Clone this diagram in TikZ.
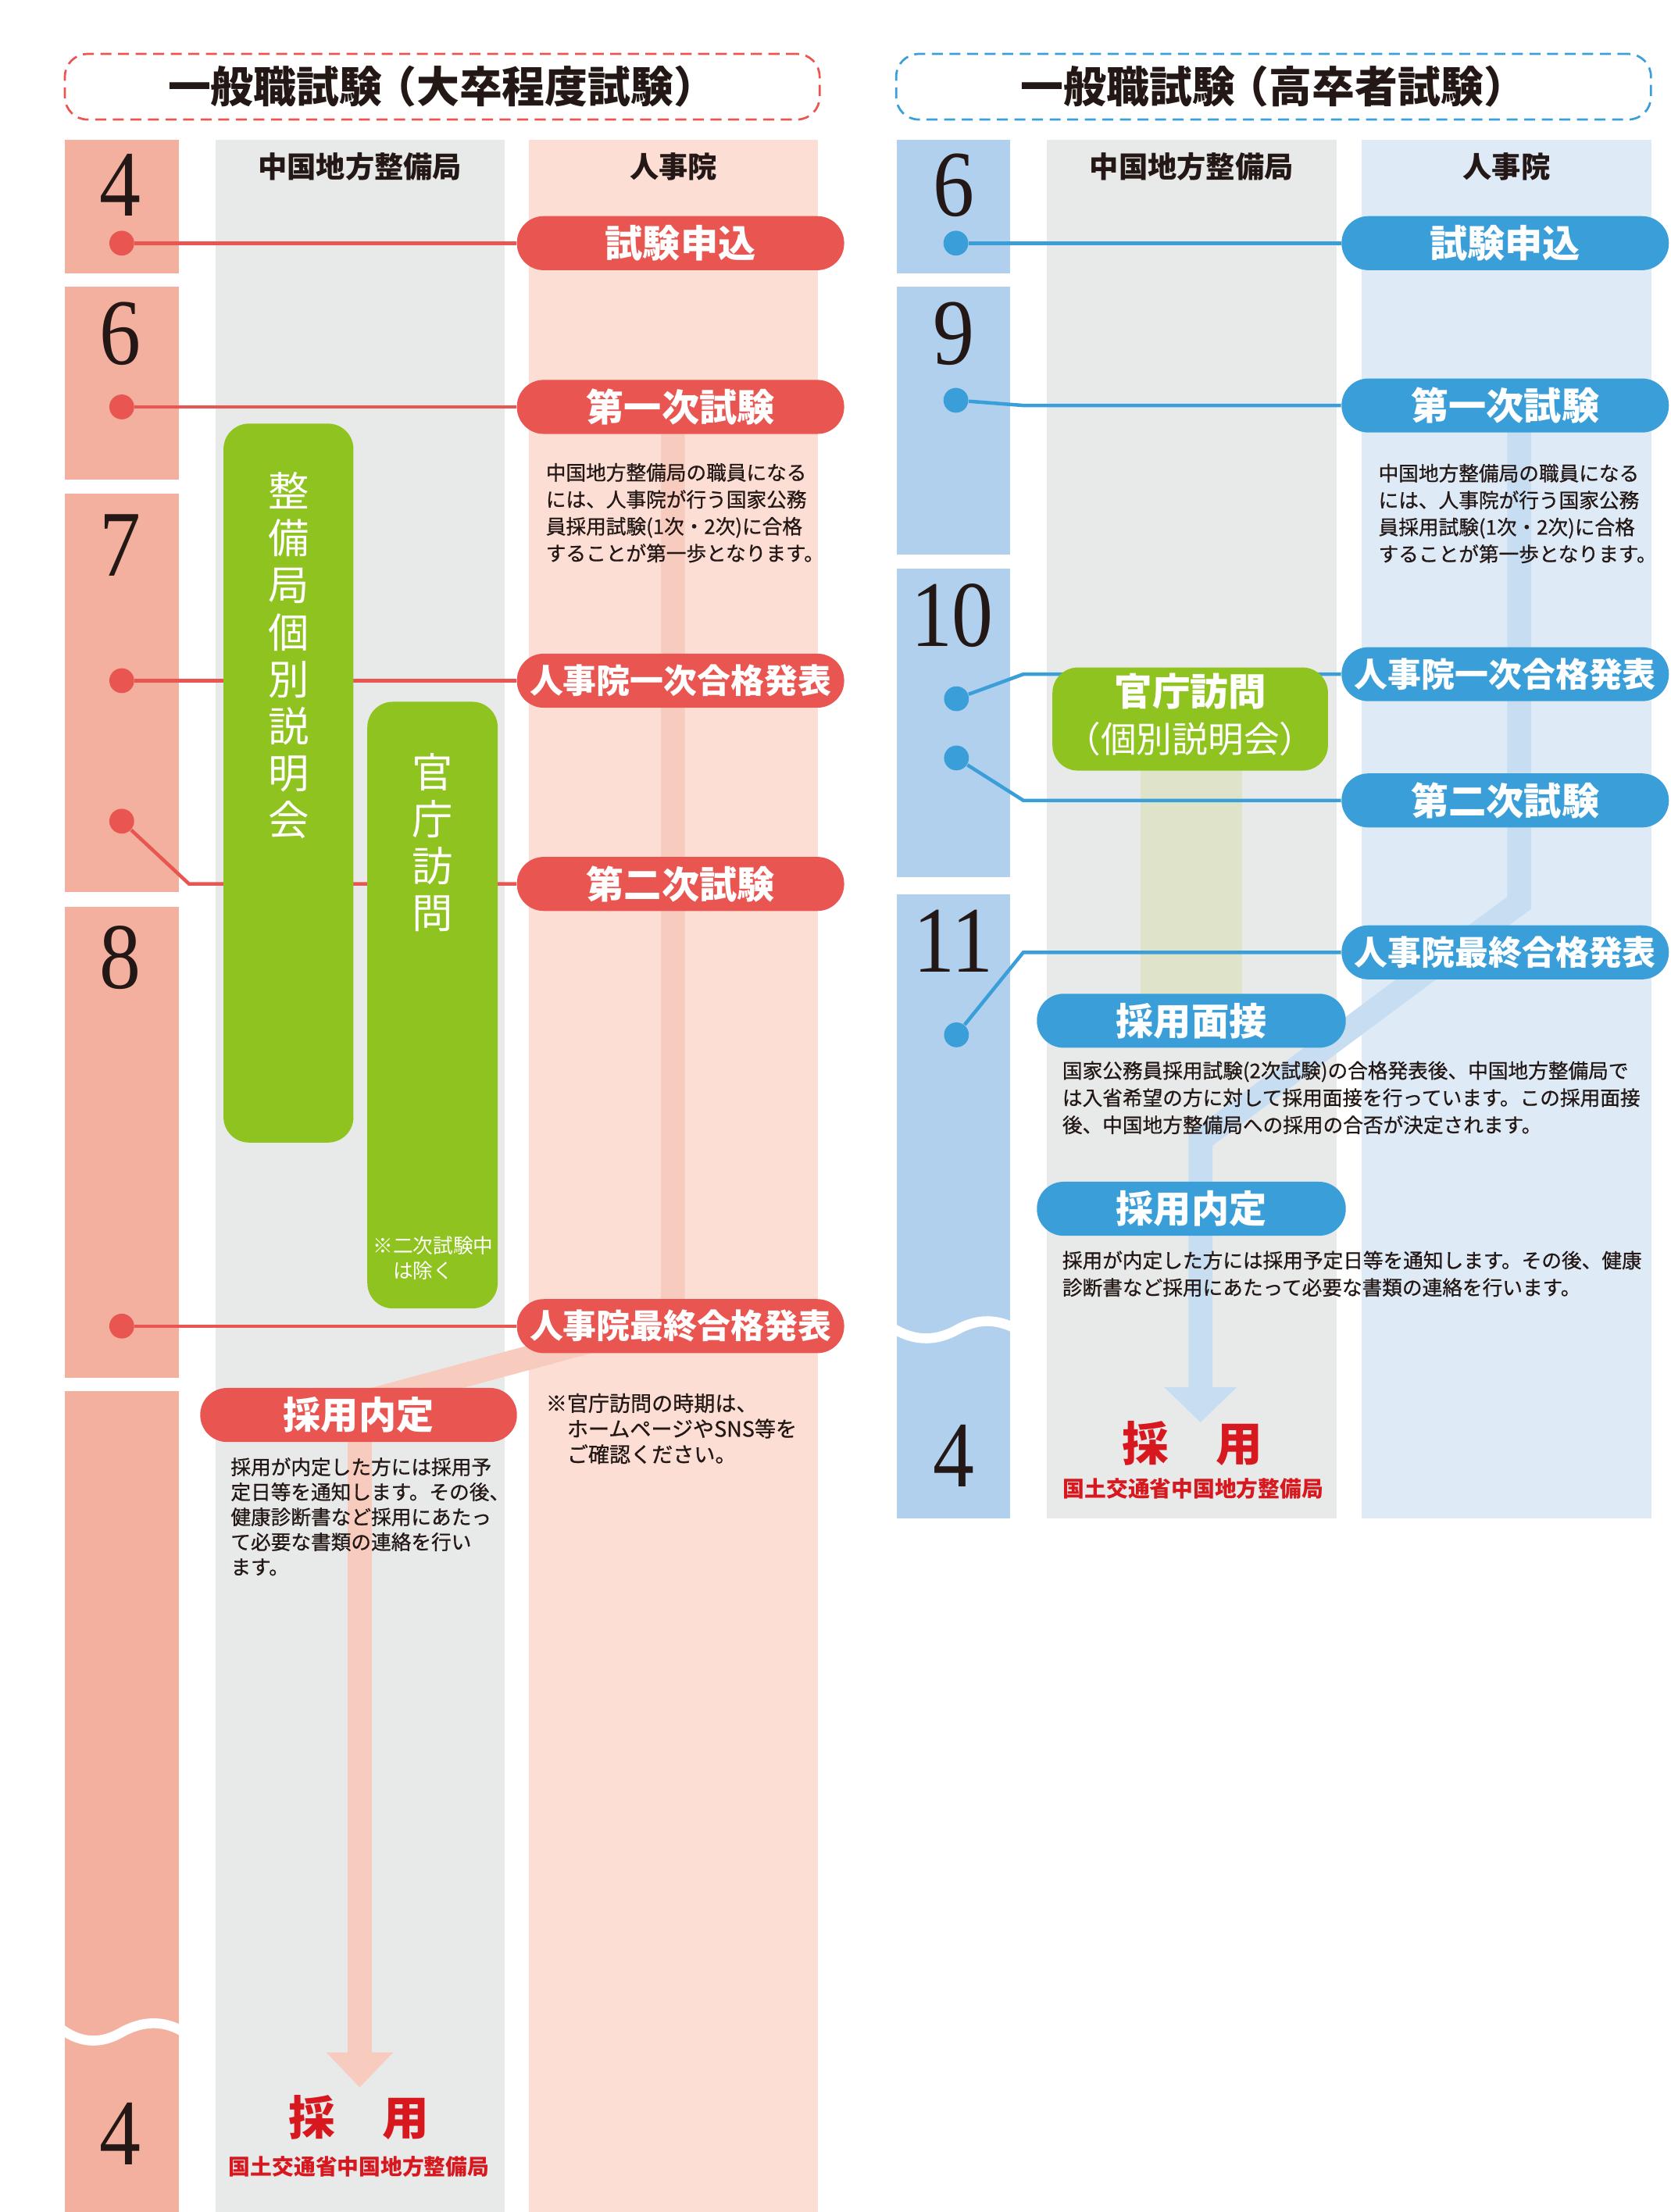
\documentclass[tikz,border=0pt]{standalone}
\usepackage{fontspec}
\newfontfamily\jp{Noto Sans CJK JP}
\newfontfamily\jpm{Noto Sans CJK JP}[FakeBold=0.8]
\newfontfamily\numfont{Liberation Serif}[FakeStretch=0.88]
\usetikzlibrary{arrows.meta}
\pgfdeclarelayer{back}
\pgfdeclarelayer{mid}
\pgfsetlayers{back,mid,main}
\def\un{0.018057cm}
\definecolor{ink}{HTML}{231815}
\definecolor{redpill}{HTML}{E95651}
\definecolor{monred}{HTML}{F3B09F}
\definecolor{colpink}{HTML}{FCDED5}
\definecolor{colgray}{HTML}{E8EAEA}
\definecolor{leaf}{HTML}{8FC31F}
\definecolor{palered}{HTML}{F8CBBF}
\definecolor{bluepill}{HTML}{3A9FD9}
\definecolor{monblue}{HTML}{B0D0EE}
\definecolor{colblue}{HTML}{DEEBF7}
\definecolor{paleblue}{HTML}{C7DEF2}
\definecolor{olive}{HTML}{DFE3CA}
\definecolor{inkred}{HTML}{D7181F}
\tikzset{
  titlebox/.style={dash pattern=on 4pt off 2.4pt, line width=1.5*\un, rounded corners=16*\un,
    minimum width=535*\un, minimum height=46.5*\un, inner sep=0, text=ink,
    font=\jp\bfseries\fontsize{15.6}{18}\selectfont},
  colhead/.style={text=ink, font=\jp\bfseries\fontsize{10.6}{12}\selectfont},
  monthnum/.style={anchor=base, inner sep=0, text=ink, font=\numfont\fontsize{34.2}{36}\selectfont},
  pillr/.style={fill=redpill, text=white, rounded corners=19*\un, minimum width=232*\un,
    minimum height=38.3*\un, inner sep=0, font=\jp\bfseries\fontsize{13.7}{15}\selectfont},
  pillb/.style={pillr, fill=bluepill},
  longlabel/.style={font=\jp\bfseries\fontsize{12.2}{14}\selectfont},
  dotr/.style={circle, fill=redpill, minimum size=17.6*\un, inner sep=0},
  dotb/.style={dotr, fill=bluepill},
  linkr/.style={draw=redpill, line width=2.5*\un},
  linkb/.style={draw=bluepill, line width=2.5*\un},
  greenbox/.style={fill=leaf, rounded corners=18*\un, inner sep=0},
  vtext/.style={align=center, inner sep=0, text=white, font=\jp\fontsize{14.9}{17.1}\selectfont},
  desc/.style={anchor=north west, align=left, inner sep=0, text=ink, font=\jpm\fontsize{7.3}{9.8}\selectfont},
  palepath/.style={line width=0.307cm},
  hire/.style={text=inkred, font=\jp\bfseries\fontsize{17}{19}\selectfont},
  hiresub/.style={text=inkred, font=\jp\bfseries\fontsize{7.9}{9}\selectfont}
}
\begin{document}
\begin{tikzpicture}[x=\un,y=-\un]
\useasboundingbox (0,0) rectangle (1184,1568.3);

\begin{pgfonlayer}{back}
% left chart columns
\fill[colgray] (152.7,98.9) rectangle (357.6,1568.3);
\fill[colpink] (375,98.9) rectangle (580,1568.3);
\fill[monred] (46,98.9) rectangle (127,193.6);
\fill[monred] (46,203.5) rectangle (127,340);
\fill[monred] (46,350) rectangle (127,632.3);
\fill[monred] (46,643) rectangle (127,977);
\fill[monred] (46,986) rectangle (127,1568.3);
\draw[white, line width=7*\un] (44,1439) .. controls (58,1449) and (72,1449) .. (86,1441) .. controls (100,1433) and (115,1432) .. (129,1440);
% right chart columns
\fill[colgray] (742,98.9) rectangle (947.4,1076.5);
\fill[colblue] (965.4,98.9) rectangle (1170.6,1076.5);
\fill[monblue] (635.5,98.9) rectangle (716.1,193.6);
\fill[monblue] (635.5,203.5) rectangle (716.1,393);
\fill[monblue] (635.5,403) rectangle (716.1,622);
\fill[monblue] (635.5,634) rectangle (716.1,1076.5);
\draw[white, line width=7*\un] (633.5,942) .. controls (650,952) and (665,950) .. (678,943) .. controls (692,935) and (705,935) .. (718,941);
\fill[olive] (808.3,546) rectangle (880.4,723);
\end{pgfonlayer}

% titles and column heads
\node[titlebox, draw=redpill] (hl) at (313.5,61.5) {一般職試験\kern-.2em（大卒程度試験）};
\node[titlebox, draw=bluepill] (hr) at (902.8,61.5) {一般職試験\kern-.2em（高卒者試験）};
\node[colhead] (cl1) at (255.1,118) {中国地方整備局};
\node[colhead] (cl2) at (477.5,118) {人事院};
\node[colhead] (cr1) at (844.7,118) {中国地方整備局};
\node[colhead] (cr2) at (1068,118) {人事院};

% months
\node[monthnum] (ml1) at (85.5,153) {4};
\node[monthnum] (ml2) at (85.5,258.3) {6};
\node[monthnum] (ml3) at (85.5,408.5) {7};
\node[monthnum] (ml4) at (85.5,701) {8};
\node[monthnum] (ml5) at (85.5,1535) {4};
\node[monthnum] (mr1) at (676,153) {6};
\node[monthnum] (mr2) at (676,258.3) {9};
\node[monthnum] (mr3) at (675,458.5) {10};
\node[monthnum] (mr4) at (676,689.4) {11};
\node[monthnum] (mr5) at (676,1054.3) {4};

% green boxes
\node[greenbox, minimum width=92.1*\un, minimum height=509.7*\un] (gl1) at (204.5,555.2) {};
\node[greenbox, minimum width=92.4*\un, minimum height=430.1*\un] (gl2) at (306.6,712.6) {};
\node[greenbox, minimum width=195.3*\un, minimum height=73.1*\un] (gr1) at (843.7,509.8) {};
\node[vtext, anchor=north] (vl1) at (204.5,334.5) {整\\備\\局\\個\\別\\説\\明\\会};
\node[vtext, anchor=north] (vl2) at (306.6,533.5) {官\\庁\\訪\\問};
\node[desc, text=white, font=\jp\fontsize{7.3}{9.2}\selectfont] (nl2) at (264,876) {※二次試験中\\\hspace*{1em}は除く};
\node[text=white, font=\jp\bfseries\fontsize{13.8}{15}\selectfont] (gr1a) at (843.7,490.4) {官庁訪問};
\node[text=white, font=\jp\fontsize{13}{14}\selectfont] (gr1b) at (843.7,523.8) {（個別説明会）};

% pills
\node[pillr] (pl1) at (482.4,172.4) {試験申込};
\node[pillr] (pl2) at (482.4,288.5) {第一次試験};
\node[pillr, longlabel] (pl3) at (482.4,482.6) {人事院一次合格発表};
\node[pillr] (pl4) at (482.4,626.7) {第二次試験};
\node[pillr, longlabel] (pl5) at (482.4,940.2) {人事院最終合格発表};
\node[pillr, minimum width=224.5*\un] (pl6) at (254.2,1003.2) {採用内定};
\node[pillb] (pr1) at (1067,172.4) {試験申込};
\node[pillb] (pr2) at (1067,287.5) {第一次試験};
\node[pillb, longlabel] (pr3) at (1067,478) {人事院一次合格発表};
\node[pillb] (pr4) at (1067,567.5) {第二次試験};
\node[pillb, longlabel] (pr5) at (1067,675.2) {人事院最終合格発表};
\node[pillb, minimum width=219*\un] (pr6) at (844.5,723.7) {採用面接};
\node[pillb, minimum width=219*\un] (pr7) at (844.5,857) {採用内定};

% dots
\node[dotr] (dl1) at (86.3,172.4) {};
\node[dotr] (dl2) at (86.3,288.5) {};
\node[dotr] (dl3) at (86.3,482.6) {};
\node[dotr] (dl4) at (86.3,582.2) {};
\node[dotr] (dl5) at (86.3,940.2) {};
\node[dotb] (dr1) at (677.6,172.4) {};
\node[dotb] (dr2) at (677.6,283.8) {};
\node[dotb] (dr3) at (678,495.4) {};
\node[dotb] (dr4) at (678,537.4) {};
\node[dotb] (dr5) at (678,733.7) {};

% notes
\node[desc] (tl1) at (386.6,328) {中国地方整備局の職員になる\\には、人事院が行う国家公務\\員採用試験(1次・2次)に合格\\することが第一歩となります。};
\node[desc] (tr1) at (976.8,328.5) {中国地方整備局の職員になる\\には、人事院が行う国家公務\\員採用試験(1次・2次)に合格\\することが第一歩となります。};
\node[desc, font=\jpm\fontsize{7.3}{9.1}\selectfont] (tl2) at (163.2,1033) {採用が内定した方には採用予\\定日等を通知します。その後、\\健康診断書など採用にあたっ\\て必要な書類の連絡を行い\\ます。};
\node[desc, font=\jpm\fontsize{7.7}{9.3}\selectfont] (tl3) at (386.6,987.5) {※官庁訪問の時期は、\\\hspace*{1em}ホームページやSNS等を\\\hspace*{1em}ご確認ください。};
\node[desc, font=\jpm\fontsize{7.3}{9.9}\selectfont] (tr2) at (752.7,752) {国家公務員採用試験(2次試験)の合格発表後、中国地方整備局で\\は入省希望の方に対して採用面接を行っています。この採用面接\\後、中国地方整備局への採用の合否が決定されます。};
\node[desc, font=\jpm\fontsize{7.3}{9.9}\selectfont] (tr3) at (752.7,886.5) {採用が内定した方には採用予定日等を通知します。その後、健康\\診断書など採用にあたって必要な書類の連絡を行います。};

% hiring
\node[hire] (hl1) at (254.5,1501.5) {採　用};
\node[hiresub] (hl2) at (254.5,1536) {国土交通省中国地方整備局};
\node[hire] (hr1) at (845.4,1023.5) {採　用};
\node[hiresub] (hr2) at (845.8,1055.4) {国土交通省中国地方整備局};

\begin{pgfonlayer}{mid}
% pale flow arrows
\coordinate (al0) at (477,300);
\coordinate (al1) at (477,935);
\coordinate (al2) at (255,995);
\coordinate (al3) at (255,1480);
\draw[palepath, draw=palered, -{Triangle[width=0.83cm,length=0.45cm]}] (al0) -- (al1) -- (al2) -- (al3);
\coordinate (ar0) at (1077,300);
\coordinate (ar1) at (1077,640);
\coordinate (ar2) at (851,808);
\coordinate (ar3) at (851,1008.5);
\draw[palepath, draw=paleblue, -{Triangle[width=0.90cm,length=0.45cm]}] (ar0) -- (ar1) -- (ar2) -- (ar3);
% links
\draw[linkr] (dl1) -- (pl1);
\draw[linkr] (dl2) -- (pl2);
\draw[linkr] (dl3) -- (pl3);
\coordinate (kl4) at (134,626.7);
\draw[linkr] (dl4) -- (kl4) -- (pl4);
\draw[linkr] (dl5) -- (pl5);
\draw[linkb] (dr1) -- (pr1);
\coordinate (kr2) at (726,287.5);
\draw[linkb] (dr2) -- (kr2) -- (pr2);
\coordinate (kr3) at (725.4,478);
\draw[linkb] (dr3) -- (kr3) -- (pr3);
\coordinate (kr4) at (725.4,567.5);
\draw[linkb] (dr4) -- (kr4) -- (pr4);
\coordinate (kr5) at (725.4,675.2);
\draw[linkb] (dr5) -- (kr5) -- (pr5);
\end{pgfonlayer}
\end{tikzpicture}
\end{document}
